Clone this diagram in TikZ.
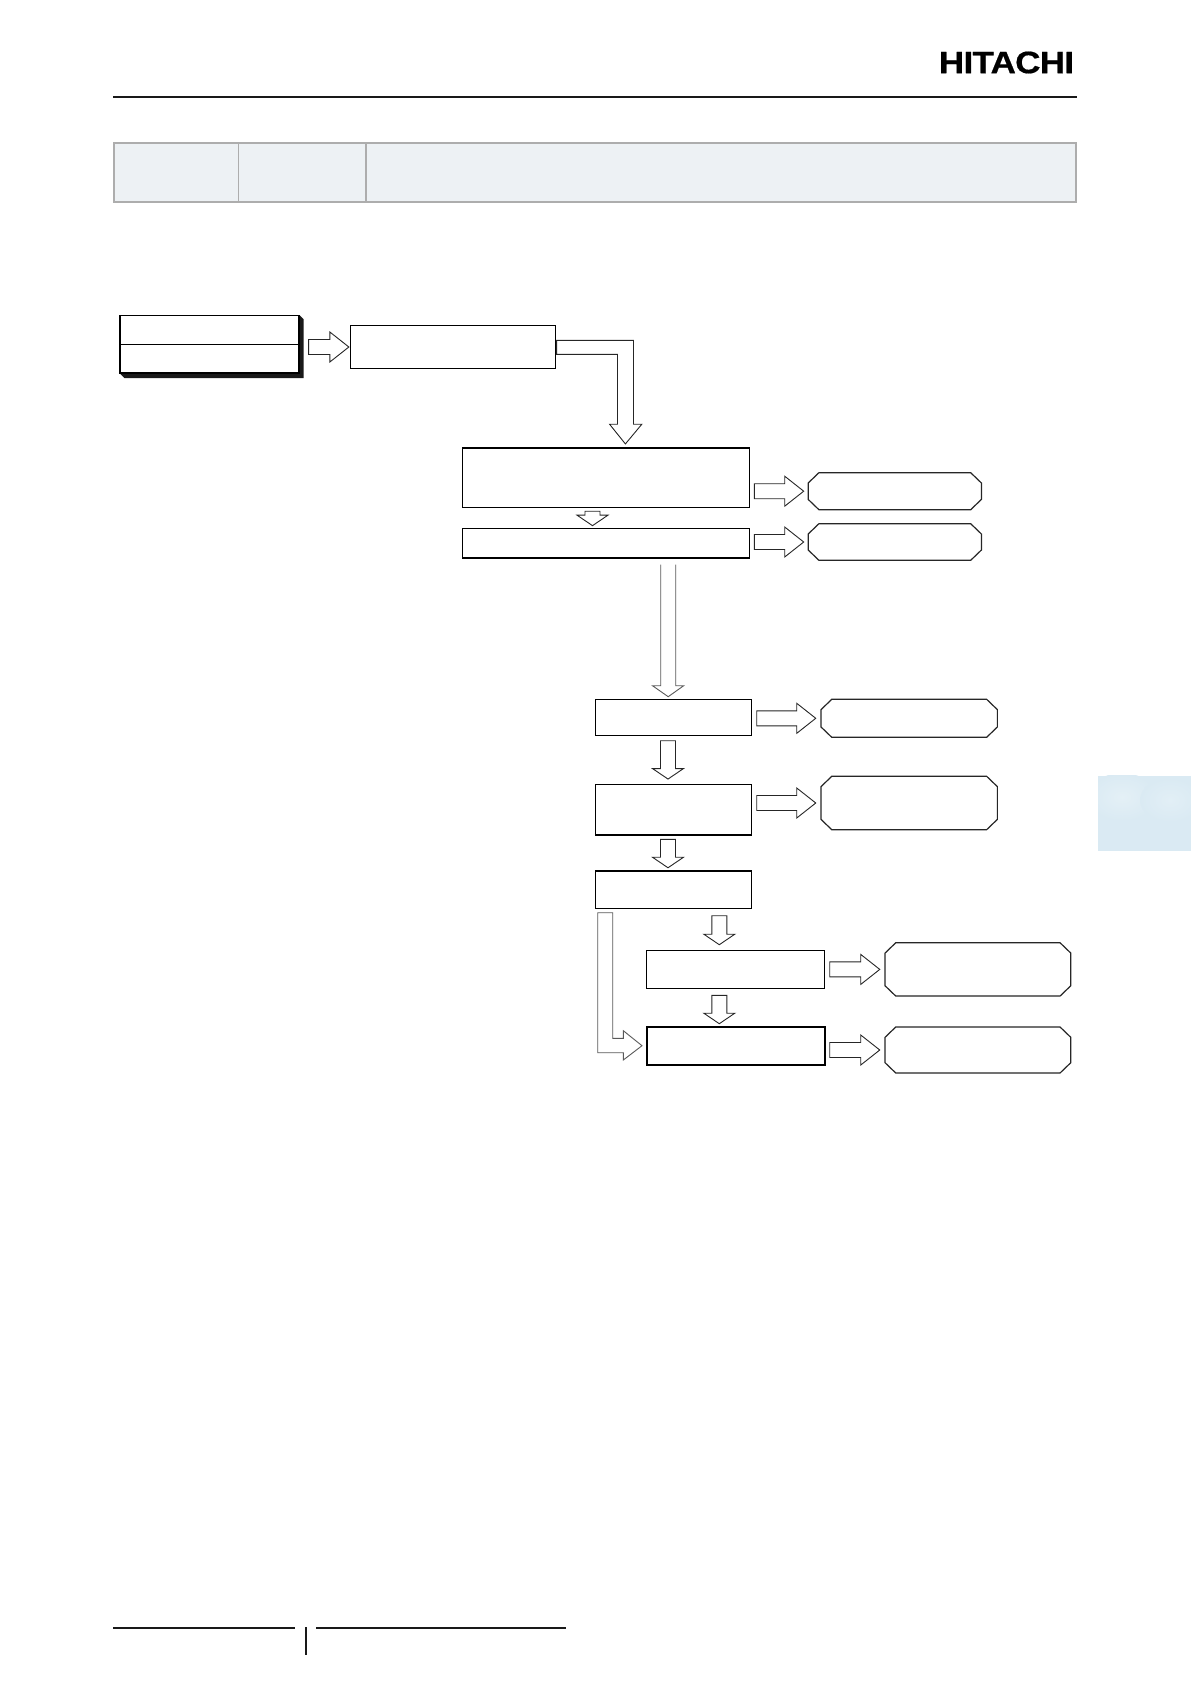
\documentclass[tikz,border=0pt]{standalone}
\usepackage{fontspec}
\usetikzlibrary{calc}
\newfontfamily\logofont[BoldFeatures={FakeBold=0.6,LetterSpace=-2}]{Liberation Sans}

\tikzset{
    flowbox/.style={draw, line width=1pt, fill=white, rectangle, inner sep=0pt, outer sep=0pt},
    heavybox/.style={flowbox, line width=1.7pt},
    notespot/.style={rectangle, inner sep=0pt, outer sep=0pt},
    noteline/.style={draw=black!85, line width=1.2pt, fill=white},
    blockline/.style={draw=black!85, line width=0.9pt, fill=white, line join=miter},
    paleline/.style={draw=black!65, line width=0.9pt, fill=white},
    ruleline/.style={line width=2pt, black!90},
}

% note box with cut corners
\newcommand{\notebox}[4]{
    \node[notespot, minimum width=#3pt, minimum height=#4pt] (#1) at (#2) {};
    \draw[noteline] ($(#1.north west)+(10.7,0)$) -- ($(#1.north east)+(-10.7,0)$) -- ($(#1.north east)+(0,10.3)$)
        -- ($(#1.south east)+(0,-10.3)$) -- ($(#1.south east)+(-10.7,0)$) -- ($(#1.south west)+(10.7,0)$)
        -- ($(#1.south west)+(0,-10.3)$) -- ($(#1.north west)+(0,10.3)$) -- cycle;
}
% block arrow pointing right, from one node to the next
\newcommand{\rightblock}[3][4.5]{
    \path ($(#2.east |- #3.west)+(5,0)$) coordinate (tailpt) ($(#3.west)+(-#1,0)$) coordinate (tippt);
    \draw[blockline] ($(tailpt)+(0,-7.5)$) -- ($(tippt)+(-19,-7.5)$) -- ($(tippt)+(-19,-15)$) -- (tippt)
        -- ($(tippt)+(-19,15)$) -- ($(tippt)+(-19,7.5)$) -- ($(tailpt)+(0,7.5)$) -- cycle;
}
% block arrow pointing down: shift in x, upper node, gap, lower node, gap
\newcommand{\downblock}[5]{
    \path ($(#2.south)+(#1,#3)$) coordinate (tailpt) ($(tailpt |- #4.north)+(0,-#5)$) coordinate (tippt);
    \draw[blockline] ($(tailpt)+(-7.5,0)$) -- ($(tippt)+(-7.5,-10.5)$) -- ($(tippt)+(-15.5,-10.5)$) -- (tippt)
        -- ($(tippt)+(15.5,-10.5)$) -- ($(tippt)+(7.5,-10.5)$) -- ($(tailpt)+(7.5,0)$) -- cycle;
}

\begin{document}
\begin{tikzpicture}[x=1pt, y=-1pt]
    \useasboundingbox (0,0) rectangle (1191,1684);

    % Page head
    \node[font=\logofont\bfseries\fontsize{31}{31}\selectfont, inner sep=0pt, transform shape, xscale=1.13] (logo) at (1006.5,62.5) {HITACHI};
    \draw[ruleline] (113,96.7) -- (1077,96.7);

    % Heading table, cells left empty
    \draw[draw=black!32, line width=1.6pt, fill={rgb,255:red,237;green,241;blue,244}] (114,143) rectangle (1076,202);
    \draw[black!32, line width=1.4pt] (238.3,143) -- (238.3,202);
    \draw[black!32, line width=1.4pt] (365.9,143) -- (365.9,202);

    % Side tab
    \fill[fill={rgb,255:red,218;green,234;blue,243}] (1098,775.5) rectangle (1191,851);
    \begin{scope}
        \clip (1098,775.5) rectangle (1191,851);
        \shade[inner color={rgb,255:red,228;green,240;blue,246}, outer color={rgb,255:red,218;green,234;blue,243}] (1122,797) ellipse (34 and 24);
        \shade[inner color={rgb,255:red,226;green,239;blue,246}, outer color={rgb,255:red,218;green,234;blue,243}] (1170,800) ellipse (30 and 22);
    \end{scope}

    % Start box with its shadow
    \node[notespot, minimum width=183.6pt, minimum height=63pt] (startshade) at (211.8,346.5) {};
    \fill[black!90] (startshade.north west) -- ($(startshade.north east)+(-4.3,0)$) -- ($(startshade.north east)+(0,4.3)$)
        -- (startshade.south east) -- ($(startshade.south west)+(4.3,0)$) -- ($(startshade.south west)+(0,-4.3)$) -- cycle;
    \node[heavybox, minimum width=179pt, minimum height=57.7pt] (startbox) at (209.8,344.2) {};
    \draw[line width=1pt] (startbox.west) -- (startbox.east);

    % Left column of the flow
    \node[flowbox, minimum width=205.3pt, minimum height=43.4pt] (readbox) at (453,347) {};
    \node[flowbox, line width=1.4pt, minimum width=286.6pt, minimum height=59.3pt] (checkbox) at (606,477.6) {};
    \node[heavybox, line width=1.4pt, minimum width=286.6pt, minimum height=29.3pt] (limitbox) at (606,543.3) {};
    \notebox{checknote}{894.8,491.2}{173.2}{37}
    \notebox{limitnote}{894.8,542}{173.2}{36.6}

    % Middle column
    \node[flowbox, minimum width=156.4pt, minimum height=36.4pt] (fanbox) at (673.5,717.5) {};
    \node[flowbox, line width=1.2pt, minimum width=156.4pt, minimum height=50.7pt] (valvebox) at (673.5,809.7) {};
    \node[heavybox, line width=1.4pt, minimum width=156.4pt, minimum height=37.7pt] (compbox) at (673.5,889.9) {};
    \notebox{fannote}{909.2,718.3}{176.3}{38}
    \notebox{valvenote}{909.2,803}{176.3}{53.4}

    % Right column
    \node[flowbox, line width=1.2pt, minimum width=178pt, minimum height=37.6pt] (heatbox) at (735.7,969.5) {};
    \node[heavybox, minimum width=178pt, minimum height=38pt] (stopbox) at (735.7,1046) {};
    \notebox{heatnote}{977.9,969.4}{185.7}{53.3}
    \notebox{stopnote}{977.9,1050}{185.7}{46}

    % Arrows to the right
    \rightblock[1.5]{startshade}{readbox}
    \rightblock{checkbox}{checknote}
    \rightblock{limitbox}{limitnote}
    \rightblock[5.3]{fanbox}{fannote}
    \rightblock[5.3]{valvebox}{valvenote}
    \rightblock[5.3]{heatbox}{heatnote}
    \rightblock[5.3]{stopbox}{stopnote}

    % Arrows downwards
    \downblock{-13.5}{checkbox}{4}{limitbox}{3}
    \downblock{-5.5}{fanbox}{5}{valvebox}{5.3}
    \downblock{-5.5}{valvebox}{4.3}{compbox}{3.3}
    \downblock{45.8}{compbox}{7}{heatbox}{6}
    \downblock{-16.4}{heatbox}{7}{stopbox}{3.3}

    % Elbow arrow from the read box to the check box
    \coordinate (readtip) at ($(checkbox.north)+(19.4,-4)$);
    \coordinate (readtop) at ($(readbox.east)+(1,-6.7)$);
    \coordinate (readlow) at ($(readbox.east)+(1,7.3)$);
    \coordinate (readright) at ($(readtip)+(8.1,-19.7)$);
    \coordinate (readleft) at ($(readtip)+(-7.9,-19.7)$);
    \draw[blockline] (readtop) -- (readright |- readtop) -- (readright) -- ($(readtip)+(16.4,-19.7)$) -- (readtip)
        -- ($(readtip)+(-15.8,-19.7)$) -- (readleft) -- (readleft |- readlow) -- (readlow) -- cycle;

    % Long arrow, open at its tail
    \coordinate (longtail) at ($(limitbox.south)+(62.2,6.7)$);
    \coordinate (longtip) at ($(longtail |- fanbox.north)+(0,-2.6)$);
    \draw[paleline] ($(longtail)+(-7.5,0)$) -- ($(longtip)+(-7.5,-11)$) -- ($(longtip)+(-15.7,-11)$) -- (longtip)
        -- ($(longtip)+(15.5,-11)$) -- ($(longtip)+(7.5,-11)$) -- ($(longtail)+(7.5,0)$);

    % Elbow arrow past the heat box
    \coordinate (stoptip) at ($(stopbox.west)+(-4.7,-0.3)$);
    \coordinate (compfoot) at ($(compbox.south west)+(2.4,4)$);
    \coordinate (stopup) at ($(stoptip)+(-18.7,-7.4)$);
    \coordinate (stopdown) at ($(stoptip)+(-18.7,7)$);
    \coordinate (compfootr) at ($(compfoot)+(15,0)$);
    \draw[paleline] (compfoot) -- (compfootr) -- (compfootr |- stopup) -- (stopup)
        -- ($(stoptip)+(-18.7,-15)$) -- (stoptip) -- ($(stoptip)+(-18.7,14.3)$)
        -- (stopdown) -- (compfoot |- stopdown) -- cycle;

    % Page foot
    \draw[ruleline] (113,1628) -- (295,1628);
    \draw[ruleline] (316,1628) -- (566,1628);
    \draw[ruleline] (306,1627) -- (306,1655);

\end{tikzpicture}
\end{document}
